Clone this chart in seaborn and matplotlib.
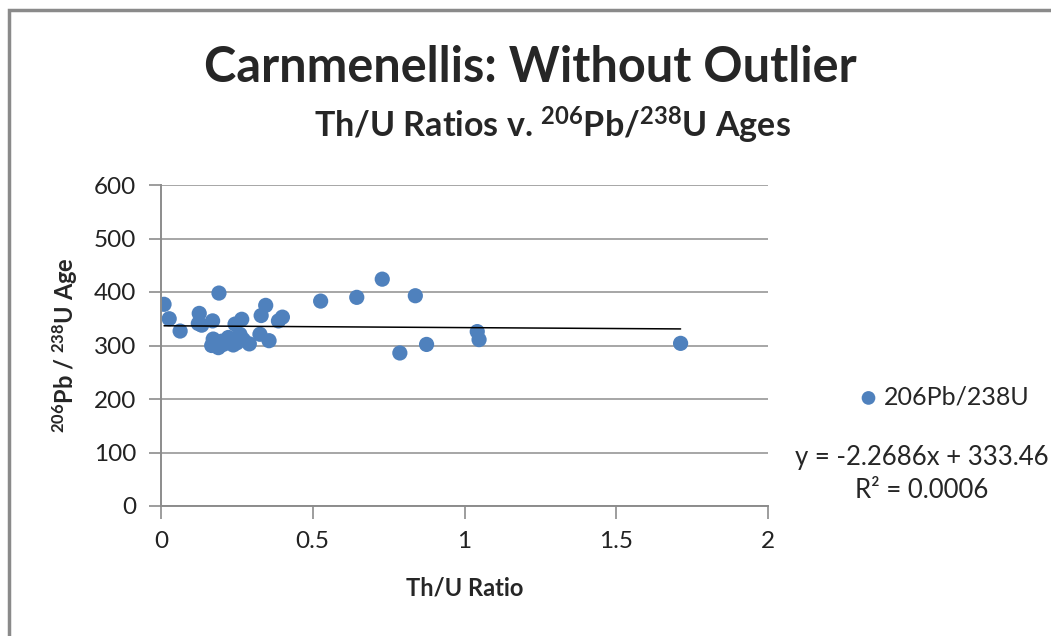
import numpy as np
import pandas as pd
import seaborn as sns
import matplotlib.pyplot as plt
from matplotlib.patches import Rectangle
from matplotlib.ticker import FuncFormatter, MultipleLocator

# Th/U ratio and 206Pb/238U age
th_u = [0.010, 0.027, 0.063, 0.191, 0.126, 0.123, 0.134, 0.170, 0.172, 0.167,
        0.189, 0.200, 0.205, 0.222, 0.238, 0.244, 0.266, 0.260, 0.271, 0.291,
        0.250, 0.330, 0.345, 0.326, 0.356, 0.387, 0.400, 0.526, 0.645, 0.729,
        0.838, 0.787, 0.875, 1.042, 1.048, 1.712]
age = [377, 350, 327, 398, 360, 341, 338, 346, 312, 300,
       296, 308, 302, 315, 301, 340, 349, 321, 311, 303,
       305, 356, 375, 321, 309, 346, 353, 383, 390, 424,
       393, 286, 302, 326, 311, 304]

series_label = "206Pb/238U"
equation = "y = -2.2686x + 333.46"
r_squared = "R\u00b2 = 0.0006"

if __name__ == '__main__':
    df = pd.DataFrame({'Th/U Ratio': th_u, 'Age': age})

    sns.set_style("white")
    plt.rcParams['font.family'] = ['Lato', 'DejaVu Sans']
    plt.rcParams['mathtext.default'] = 'regular'

    fig = plt.figure(figsize=(10.51, 6.36), dpi=100)
    ax = fig.add_axes([161/1051, 1 - 506/636, (768 - 161)/1051, (506 - 185)/636])

    # scatter plus linear trendline
    sns.regplot(x='Th/U Ratio', y='Age', data=df, ci=None, ax=ax, truncate=True,
                label=series_label,
                scatter_kws=dict(s=120, color='#4F81BD', edgecolors='none', alpha=1),
                line_kws=dict(color='black', lw=1.1))

    ax.set_xlim(0, 2)
    ax.set_ylim(0, 600)
    ax.xaxis.set_major_locator(MultipleLocator(0.5))
    ax.yaxis.set_major_locator(MultipleLocator(100))
    ax.xaxis.set_major_formatter(FuncFormatter(lambda v, p: f"{v:g}"))
    ax.grid(axis='y', color='#A6A6A6', lw=1.4)
    ax.set_axisbelow(True)
    for side in ['top', 'right']:
        ax.spines[side].set_visible(False)
    for side in ['left', 'bottom']:
        ax.spines[side].set_color('#8C8C8C')
        ax.spines[side].set_linewidth(1.4)
    ax.tick_params(axis='both', direction='out', length=9, width=1.2, color='#8C8C8C',
                   labelsize=17.5, labelcolor='#222222', pad=9, left=True, bottom=True)

    ax.set_xlabel("Th/U Ratio", fontsize=17, fontweight='bold', labelpad=18)
    ax.set_ylabel(r"$^{206}$Pb / $^{238}$U Age", fontsize=17, fontweight='bold', labelpad=10)

    fig.text(530/1051, 1 - 68/636, "Carnmenellis: Without Outlier",
             ha='center', va='center', fontsize=35, fontweight='bold')
    fig.text(552/1051, 1 - 125/636, r"Th/U Ratios v. $^{206}$Pb/$^{238}$U Ages",
             ha='center', va='center', fontsize=24.5, fontweight='bold')

    ax.legend(loc='center left', bbox_to_anchor=(836/1051, 1 - 397/636),
              bbox_transform=fig.transFigure, frameon=False, fontsize=18,
              handlelength=0.8, handletextpad=0.2, markerscale=0.9)
    fig.text(922/1051, 1 - 457/636, equation, ha='center', va='center', fontsize=18.5)
    fig.text(922/1051, 1 - 491/636, r_squared, ha='center', va='center', fontsize=18.5)

    # outer chart border
    fig.patches.append(Rectangle((9/1051, -0.2), 1.2, 1.2 - 10/636, transform=fig.transFigure,
                                 fill=False, edgecolor='#8A8A8A', lw=2.5))

    fig.savefig("out.png", dpi=100)
